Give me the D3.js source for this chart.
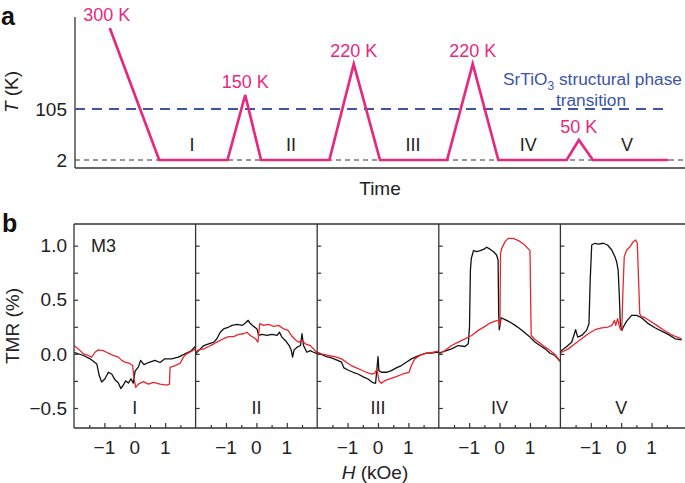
<!DOCTYPE html>
<html><head><meta charset="utf-8">
<script src="https://cdn.jsdelivr.net/npm/d3@7"></script>
<style>
body{margin:0;background:#fff;}
svg{display:block;font-family:"Liberation Sans",Arial,Helvetica,sans-serif;}
</style></head><body>
<svg id="c" width="685" height="483"></svg>
<script>
// ---------- Panel a data ----------
const tempTime = [5.7, 13.8, 25.0, 27.9, 30.5, 41.7, 45.7, 50.0, 61.0, 65.2, 69.4, 80.6, 82.6, 84.9, 97.3];
const tempK    = [300, 2, 2, 150, 2, 2, 220, 2, 2, 220, 2, 2, 50, 2, 2];
const peakLabels = ["300 K", "150 K", "220 K", "220 K", "50 K"];
const peakTime   = [5.2, 27.9, 45.7, 65.2, 82.6];
const peakTemp   = [300, 150, 220, 220, 50];
const regionLabels = ["I", "II", "III", "IV", "V"];
const regionTime   = [19.2, 35.4, 55.4, 74.3, 90.5];
const tTicks = [2, 105];
const transitionK = 105;

// ---------- Panel b data: [H (kOe), TMR (%)] ----------
const sweepI_black = [[-2,0.015],[-1.69,-0.015],[-1.47,-0.046],[-1.25,-0.093],[-1.17,-0.2],[-1.09,-0.26],[-0.98,-0.23],[-0.87,-0.17],[-0.76,-0.186],[-0.65,-0.24],[-0.54,-0.27],[-0.46,-0.32],[-0.38,-0.29],[-0.30,-0.25],[-0.21,-0.27],[-0.125,-0.23],[-0.05,-0.27],[0.01,-0.16],[0.12,-0.12],[0.19,-0.06],[0.30,-0.10],[0.45,-0.08],[0.66,-0.06],[0.83,-0.08],[0.99,-0.046],[1.21,-0.046],[1.43,-0.03],[1.65,0],[1.84,0.025],[2.0,0.07]];
const sweepI_red = [[-2,0.077],[-1.86,0.046],[-1.69,0],[-1.53,-0.015],[-1.42,-0.03],[-1.31,0.015],[-1.2,0.037],[-1.04,0.03],[-0.93,0.015],[-0.82,0],[-0.71,-0.015],[-0.54,-0.03],[-0.43,-0.06],[-0.32,-0.077],[-0.18,-0.087],[-0.07,-0.108],[-0.03,-0.217],[0.03,-0.31],[0.12,-0.28],[0.28,-0.257],[0.45,-0.28],[0.61,-0.263],[0.83,-0.28],[1.05,-0.288],[1.14,-0.28],[1.16,-0.124],[1.32,-0.108],[1.49,-0.087],[1.60,-0.03],[1.71,0],[1.87,0.025],[2.0,0.046]];
const sweepII_black = [[-2,0],[-1.9,0.03],[-1.73,0.077],[-1.57,0.093],[-1.4,0.108],[-1.3,0.14],[-1.19,0.2],[-1.08,0.23],[-0.91,0.248],[-0.8,0.263],[-0.64,0.272],[-0.47,0.263],[-0.36,0.285],[-0.27,0.31],[-0.2,0.28],[-0.09,0.254],[0.02,0.23],[0.07,0.17],[0.18,0.18],[0.35,0.17],[0.51,0.18],[0.68,0.17],[0.76,0.2],[0.84,0.155],[0.95,0.124],[1.08,0.077],[1.15,0.03],[1.19,-0.03],[1.24,0.037],[1.34,0.062],[1.45,0.077],[1.5,0.186],[1.55,0.077],[1.66,0.015],[1.77,0.03],[1.88,0.015],[2.0,0]];
const sweepII_red = [[-2,0.015],[-1.9,0.037],[-1.73,0.046],[-1.57,0.068],[-1.4,0.093],[-1.24,0.118],[-1.08,0.14],[-0.91,0.16],[-0.75,0.16],[-0.59,0.18],[-0.42,0.186],[-0.31,0.2],[-0.2,0.17],[-0.03,0.14],[0.05,0.108],[0.11,0.28],[0.24,0.263],[0.40,0.272],[0.57,0.254],[0.73,0.263],[0.9,0.23],[1.04,0.217],[1.15,0.17],[1.28,0.13],[1.39,0.108],[1.5,0.124],[1.61,0.093],[1.77,0.077],[1.88,0.046],[2.0,0.006]];
const sweepIII_black = [[-2,0.015],[-1.86,-0.006],[-1.7,-0.025],[-1.53,-0.037],[-1.37,-0.056],[-1.2,-0.077],[-1.12,-0.13],[-0.99,-0.149],[-0.82,-0.17],[-0.66,-0.186],[-0.5,-0.21],[-0.33,-0.232],[-0.19,-0.263],[-0.08,-0.272],[-0.03,-0.124],[0,-0.025],[0.03,-0.155],[0.11,-0.17],[0.28,-0.17],[0.44,-0.155],[0.6,-0.13],[0.77,-0.108],[0.93,-0.077],[1.1,-0.046],[1.26,-0.025],[1.43,-0.006],[1.59,0.006],[1.76,0.006],[1.92,0.015],[2.0,0.015]];
const sweepIII_red = [[-2,0.015],[-1.86,0],[-1.64,-0.015],[-1.42,-0.025],[-1.2,-0.046],[-1.04,-0.077],[-0.88,-0.108],[-0.71,-0.13],[-0.55,-0.149],[-0.38,-0.17],[-0.22,-0.186],[-0.11,-0.18],[-0.03,-0.14],[0.03,-0.248],[0.11,-0.272],[0.22,-0.248],[0.39,-0.232],[0.6,-0.21],[0.82,-0.186],[1.02,-0.17],[1.1,-0.108],[1.21,-0.046],[1.38,-0.015],[1.59,0.006],[1.81,0.015],[2.0,0.025]];
const sweepIV_black = [[-2,0.006],[-1.8,0.025],[-1.58,0.046],[-1.36,0.077],[-1.14,0.068],[-1.03,0.093],[-0.99,0.248],[-0.96,0.774],[-0.93,0.882],[-0.86,0.954],[-0.75,0.944],[-0.64,0.954],[-0.53,0.966],[-0.42,0.985],[-0.31,0.966],[-0.2,0.944],[-0.1,0.913],[-0.05,0.867],[-0.03,0.372],[-0.01,0.223],[0.05,0.334],[0.18,0.316],[0.34,0.294],[0.51,0.263],[0.67,0.232],[0.84,0.192],[1.0,0.155],[1.17,0.108],[1.33,0.077],[1.5,0.046],[1.66,0.006],[1.82,-0.015],[1.99,-0.068]];
const sweepIV_red = [[-2,-0.006],[-1.8,0.031],[-1.58,0.077],[-1.36,0.108],[-1.14,0.139],[-0.92,0.17],[-0.7,0.217],[-0.48,0.254],[-0.32,0.285],[-0.15,0.303],[-0.04,0.31],[0.01,0.263],[0.03,0.929],[0.07,0.975],[0.18,1.037],[0.29,1.068],[0.45,1.068],[0.62,1.046],[0.79,1.015],[0.93,0.975],[1.0,0.954],[1.02,0.526],[1.04,0.17],[1.17,0.13],[1.33,0.099],[1.5,0.062],[1.66,0.031],[1.82,-0.006],[1.99,-0.068]];
const sweepV_black = [[-2,0.02],[-1.96,0.031],[-1.79,0.068],[-1.63,0.108],[-1.54,0.186],[-1.5,0.223],[-1.43,0.155],[-1.3,0.17],[-1.14,0.217],[-1.06,0.279],[-1.02,0.681],[-0.97,1.006],[-0.86,1.022],[-0.75,1.015],[-0.59,1.022],[-0.45,1.006],[-0.31,0.96],[-0.2,0.892],[-0.15,0.851],[-0.1,0.774],[-0.06,0.526],[-0.03,0.279],[0.02,0.217],[0.07,0.248],[0.18,0.303],[0.34,0.356],[0.51,0.356],[0.67,0.334],[0.89,0.279],[1.11,0.241],[1.33,0.21],[1.55,0.18],[1.77,0.139],[1.99,0.13]];
const sweepV_red = [[-2,0.005],[-1.96,0.015],[-1.74,0.046],[-1.52,0.093],[-1.3,0.139],[-1.08,0.186],[-0.86,0.223],[-0.64,0.241],[-0.43,0.248],[-0.31,0.263],[-0.22,0.31],[-0.18,0.263],[-0.12,0.325],[-0.07,0.263],[-0.02,0.223],[0.02,0.217],[0.05,0.526],[0.1,0.898],[0.18,0.96],[0.29,0.99],[0.4,1.037],[0.47,1.053],[0.53,1.022],[0.56,0.774],[0.61,0.372],[0.65,0.347],[0.78,0.334],[0.95,0.303],[1.17,0.263],[1.38,0.223],[1.6,0.186],[1.77,0.161],[1.99,0.139]];
const sweepNames = ["I", "II", "III", "IV", "V"];
const sweepBlack = [sweepI_black, sweepII_black, sweepIII_black, sweepIV_black, sweepV_black];
const sweepRed   = [sweepI_red, sweepII_red, sweepIII_red, sweepIV_red, sweepV_red];
const tmrMajor = [-0.5, 0, 0.5, 1.0];
const tmrMinor = [-0.5, -0.25, 0, 0.25, 0.5, 0.75, 1.0];
const hMajor = [-1, 0, 1];
const hMinor = [-1.5, -0.5, 0.5, 1.5];

// ---------- drawing ----------
const svg = d3.select("#c");
const PINK = "#e5297f", BLUE = "#3b56a6", RED = "#e8262d", AX = "#333";

// Panel a
const xT = d3.scaleLinear().domain([0, 100]).range([75, 685]);
const yT = d3.scaleLinear().domain([2, 50, 105, 150, 220, 300]).range([160, 140, 109, 95, 64, 28]);
const ga = svg.append("g");
ga.append("line").attr("x1", 75).attr("x2", 75).attr("y1", 17).attr("y2", 168).attr("stroke", AX).attr("stroke-width", 1.3);
ga.append("line").attr("x1", 75).attr("x2", 685).attr("y1", 168).attr("y2", 168).attr("stroke", AX).attr("stroke-width", 1.3);
ga.append("line").attr("x1", xT(0)).attr("x2", xT(100)).attr("y1", yT(2)).attr("y2", yT(2))
  .attr("stroke", "#333").attr("stroke-width", 1.1).attr("stroke-dasharray", "5,4");
ga.append("line").attr("x1", xT(0)).attr("x2", xT(97.5)).attr("y1", yT(transitionK)).attr("y2", yT(transitionK))
  .attr("stroke", BLUE).attr("stroke-width", 2).attr("stroke-dasharray", "10,7");
ga.append("path").datum(tempTime.map((t, i) => [t, tempK[i]]))
  .attr("d", d3.line().x(d => xT(d[0])).y(d => yT(d[1])))
  .attr("fill", "none").attr("stroke", PINK).attr("stroke-width", 2.7).attr("stroke-linejoin", "miter");
ga.selectAll("text.tick").data(tTicks).join("text").attr("class", "tick")
  .attr("x", 67).attr("y", d => yT(d)).attr("dy", "0.35em").attr("text-anchor", "end")
  .attr("font-size", 19).attr("fill", "#222").text(d => d);
ga.selectAll("text.peak").data(peakLabels).join("text").attr("class", "peak")
  .attr("x", (d, i) => xT(peakTime[i])).attr("y", (d, i) => yT(peakTemp[i]) - 7)
  .attr("text-anchor", "middle").attr("font-size", 18).attr("fill", PINK).text(d => d);
ga.selectAll("text.region").data(regionLabels).join("text").attr("class", "region")
  .attr("x", (d, i) => xT(regionTime[i])).attr("y", yT(2) - 9)
  .attr("text-anchor", "middle").attr("font-size", 18).attr("fill", "#222").text(d => d);
const tl = ga.append("text").attr("transform", "translate(18,92) rotate(-90)").attr("text-anchor", "middle")
  .attr("font-size", 19).attr("fill", "#222");
tl.append("tspan").attr("font-style", "italic").text("T");
tl.append("tspan").text(" (K)");
ga.append("text").attr("x", 380).attr("y", 195).attr("text-anchor", "middle").attr("font-size", 19).attr("fill", "#222").text("Time");
const st = ga.append("text").attr("x", 503).attr("y", 85).attr("font-size", 17.3).attr("fill", BLUE);
st.append("tspan").text("SrTiO");
st.append("tspan").attr("font-size", 12).attr("dy", 5).text("3");
st.append("tspan").attr("dy", -5).text(" structural phase");
ga.append("text").attr("x", 591).attr("y", 106).attr("text-anchor", "middle").attr("font-size", 17.3).attr("fill", BLUE).text("transition");
svg.append("text").attr("x", 1).attr("y", 25).attr("font-size", 25).attr("font-weight", "bold").attr("fill", "#111").text("a");

// Panel b
const topY = 224, bottomY = 428, left0 = 74, pw = 121.6;
const yR = d3.scaleLinear().domain([-0.685, 1.2]).range([bottomY, topY]);
const gb = svg.append("g");
sweepNames.forEach((name, i) => {
  const L = left0 + i * pw;
  const xH = d3.scaleLinear().domain([-2, 2]).range([L, L + pw]);
  const g = gb.append("g");
  const clipId = "clip" + i;
  svg.append("clipPath").attr("id", clipId).append("rect").attr("x", L).attr("y", topY).attr("width", pw).attr("height", bottomY - topY);
  const line = d3.line().x(d => xH(d[0])).y(d => yR(d[1]));
  g.append("path").datum(sweepBlack[i]).attr("d", line).attr("clip-path", `url(#${clipId})`)
    .attr("fill", "none").attr("stroke", "#111").attr("stroke-width", 1.3).attr("stroke-linejoin", "round");
  g.append("path").datum(sweepRed[i]).attr("d", line).attr("clip-path", `url(#${clipId})`)
    .attr("fill", "none").attr("stroke", RED).attr("stroke-width", 1.3).attr("stroke-linejoin", "round");
  g.append("line").attr("x1", L).attr("x2", L).attr("y1", topY).attr("y2", bottomY).attr("stroke", AX).attr("stroke-width", 1.3);
  const yAx = g.append("g").attr("transform", `translate(${L},0)`)
    .call(d3.axisRight(yR).tickValues(tmrMinor).tickSize(4).tickFormat(""));
  yAx.select(".domain").remove();
  yAx.selectAll("line").attr("stroke", AX).attr("stroke-width", 1.2);
  const xMaj = g.append("g").attr("transform", `translate(0,${bottomY})`)
    .call(d3.axisTop(xH).tickValues(hMajor).tickSize(5).tickFormat(""));
  xMaj.select(".domain").remove();
  xMaj.selectAll("line").attr("stroke", AX).attr("stroke-width", 1.2);
  const xMin = g.append("g").attr("transform", `translate(0,${bottomY})`)
    .call(d3.axisTop(xH).tickValues(hMinor).tickSize(3).tickFormat(""));
  xMin.select(".domain").remove();
  xMin.selectAll("line").attr("stroke", AX).attr("stroke-width", 1.2);
  g.selectAll("text.xl").data(hMajor).join("text").attr("class", "xl")
    .attr("x", d => xH(d)).attr("y", bottomY + 26).attr("text-anchor", "middle")
    .attr("font-size", 19).attr("fill", "#222").text(d => d3.format("d")(d));
  g.append("text").attr("x", xH(0)).attr("y", yR(-0.5)).attr("dy", "0.35em").attr("text-anchor", "middle")
    .attr("font-size", 18).attr("fill", "#222").text(name);
});
gb.append("line").attr("x1", left0).attr("x2", 685).attr("y1", topY).attr("y2", topY).attr("stroke", AX).attr("stroke-width", 1.3);
gb.append("line").attr("x1", left0).attr("x2", 685).attr("y1", bottomY).attr("y2", bottomY).attr("stroke", AX).attr("stroke-width", 1.3);
gb.selectAll("text.yl").data(tmrMajor).join("text").attr("class", "yl")
  .attr("x", 67).attr("y", d => yR(d)).attr("dy", "0.35em").attr("text-anchor", "end")
  .attr("font-size", 19).attr("fill", "#222").text(d => d3.format(".1f")(d));
gb.append("text").attr("x", 91).attr("y", yR(1.0)).attr("dy", "0.35em").attr("font-size", 18).attr("fill", "#222").text("M3");
gb.append("text").attr("transform", "translate(19,326) rotate(-90)").attr("text-anchor", "middle")
  .attr("font-size", 19).attr("fill", "#222").text("TMR (%)");
const hl = gb.append("text").attr("x", 375).attr("y", 479).attr("text-anchor", "middle").attr("font-size", 19).attr("fill", "#222");
hl.append("tspan").attr("font-style", "italic").text("H");
hl.append("tspan").text(" (kOe)");
svg.append("text").attr("x", 2).attr("y", 232).attr("font-size", 25).attr("font-weight", "bold").attr("fill", "#111").text("b");
</script>
</body></html>
